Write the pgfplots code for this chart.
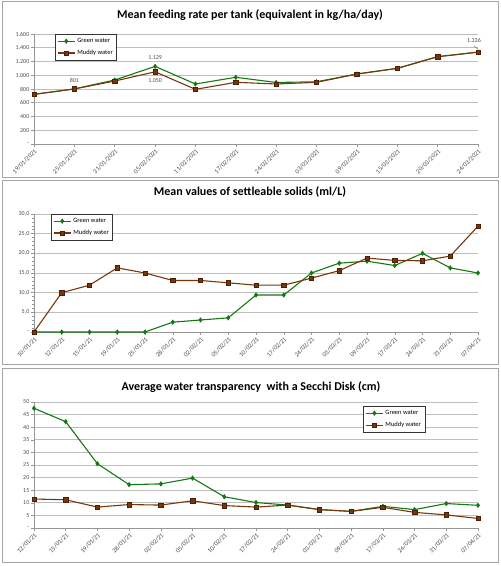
\documentclass[border=0pt]{standalone}
\usepackage{fontspec}
\setmainfont{Carlito}
\usepackage{pgfplots}
\pgfplotsset{compat=1.18}
\definecolor{gw}{RGB}{20,120,20}
\definecolor{mw}{RGB}{120,55,10}
\definecolor{mwd}{RGB}{75,30,5}
\definecolor{gridc}{RGB}{190,190,190}
\definecolor{axc}{RGB}{150,150,150}
\definecolor{framec}{RGB}{165,165,165}
\newcommand{\tk}{\fontsize{6}{7}\selectfont}
\newcommand{\dk}{\fontsize{6.5}{7}\selectfont}
\newcommand{\lk}{\fontsize{6.5}{7.5}\selectfont}
\newcommand{\ttl}{\fontsize{12}{14}\selectfont\bfseries}
\pgfplotsset{
 panel/.style={
  scale only axis, width=444pt, anchor=south west,
  axis x line=bottom, axis y line=left,
  axis line style={axc,-,line width=0.6pt},
  ymajorgrids, grid style={gridc, line width=0.7pt},
  tick style={axc, line width=0.5pt}, major tick length=3pt,
  tick align=outside,
  x tick label style={rotate=45, anchor=north east, font=\dk, inner sep=1pt, text=black!70},
  y tick label style={font=\tk, text=black!70, inner sep=1.5pt},
  legend style={font=\lk, draw=black!80, line width=0.6pt, inner sep=2pt,
     row sep=2pt, cells={anchor=west}},
  legend cell align=left,
  clip=false,
 },
 gser/.style={gw, line width=1.1pt, mark=diamond*, mark size=1.8pt, mark options={gw}},
 mser/.style={mw, line width=1.1pt, mark=square*, mark size=2.2pt,
   mark options={fill=mw, draw=mwd, line width=0.5pt}},
}
\begin{document}
\begin{tikzpicture}
\path[use as bounding box] (0pt,0pt) rectangle (501pt,566pt);
\draw[framec, line width=1pt] (2pt,388pt) rectangle (498pt,564pt);
\draw[framec, line width=1pt] (2pt,201pt) rectangle (498pt,385pt);
\draw[framec, line width=1pt] (2pt,3pt) rectangle (498pt,197pt);
\node[font=\ttl] at (250pt,551pt) {Mean feeding rate per tank (equivalent in kg/ha/day)};
\node[font=\ttl] at (250pt,374pt) {Mean values of settleable solids (ml/L)};
\node[font=\ttl] at (251pt,179pt) {Average water transparency\ \ with a Secchi Disk (cm)};

% Panel 1
\begin{axis}[panel, at={(34pt,422pt)}, height=110pt,
  xmin=0, xmax=11, ymin=0, ymax=1600,
  xtick={0,...,11},
  xticklabels={19/01/2021,25/01/2021,31/01/2021,05/02/2021,11/02/2021,17/02/2021,24/02/2021,03/03/2021,09/03/2021,15/03/2021,20/03/2021,24/03/2021},
  ytick={0,200,...,1600},
  yticklabels={-,200,400,600,800,{1.000},{1.200},{1.400},{1.600}},
  legend style={at={(0.047,1)}, anchor=north west},
]
\addplot[gser] coordinates {(0,722) (1,801) (2,931) (3,1129) (4,873) (5,970) (6,895) (7,905) (8,1018) (9,1100) (10,1270) (11,1336)};
\addlegendentry{Green water}
\addplot[mser] coordinates {(0,722) (1,801) (2,916) (3,1050) (4,795) (5,897) (6,873) (7,897) (8,1018) (9,1100) (10,1270) (11,1336)};
\addlegendentry{Muddy water}
\node[font=\tk, text=black!70] at (axis cs:1,801) [yshift=8pt] {801};
\node[font=\tk, text=black!70] at (axis cs:3,1129) [yshift=9pt] {1.129};
\node[font=\tk, text=black!70] at (axis cs:3,1050) [yshift=-9pt] {1.050};
\node[font=\tk, text=black!70] (lab) at (axis cs:10.9,1336) [yshift=12pt] {1.336};
\draw[black!60, line width=0.4pt] (lab.south) -- ([yshift=3pt]axis cs:11,1336);
\end{axis}

% Panel 2
\begin{axis}[panel, at={(34pt,234pt)}, height=118pt,
  xmin=0, xmax=16, ymin=0, ymax=30,
  xtick={0,...,16},
  xticklabels={10/01/21,12/01/21,15/01/21,19/01/21,25/01/21,28/01/21,02/02/21,05/02/21,10/02/21,17/02/21,24/02/21,03/03/21,09/03/21,17/03/21,24/03/21,31/03/21,07/04/21},
  ytick={0,5,...,30},
  yticklabels={-,{5,0},{10,0},{15,0},{20,0},{25,0},{30,0}},
  minor y tick num=4, minor tick length=1.5pt,
  legend style={at={(0.038,1)}, anchor=north west},
]
\addplot[gser] coordinates {(0,0) (1,0) (2,0) (3,0) (4,0) (5,2.5) (6,3.05) (7,3.6) (8,9.4) (9,9.4) (10,15.0) (11,17.5) (12,18.0) (13,16.9) (14,20.0) (15,16.3) (16,15.0)};
\addlegendentry{Green water}
\addplot[mser] coordinates {(0,0) (1,10.0) (2,11.9) (3,16.3) (4,15.0) (5,13.1) (6,13.1) (7,12.5) (8,11.9) (9,11.9) (10,13.7) (11,15.6) (12,18.8) (13,18.2) (14,18.1) (15,19.3) (16,26.9)};
\addlegendentry{Muddy water}
\end{axis}

% Panel 3
\begin{axis}[panel, at={(34pt,38pt)}, height=126pt,
  xmin=0, xmax=14, ymin=0, ymax=50,
  xtick={0,...,14},
  xticklabels={12/01/21,15/01/21,19/01/21,28/01/21,02/02/21,05/02/21,10/02/21,17/02/21,24/02/21,03/03/21,09/03/21,17/03/21,24/03/21,31/03/21,07/04/21},
  ytick={0,5,...,50},
  yticklabels={-,5,10,15,20,25,30,35,40,45,50},
  legend style={at={(0.741,0.968)}, anchor=north west},
]
\addplot[gser] coordinates {(0,47.5) (1,42.2) (2,25.5) (3,17.2) (4,17.5) (5,19.8) (6,12.4) (7,10.1) (8,9.1) (9,7.3) (10,6.6) (11,8.6) (12,7.3) (13,9.7) (14,9.0)};
\addlegendentry{Green water}
\addplot[mser] coordinates {(0,11.5) (1,11.2) (2,8.3) (3,9.3) (4,9.1) (5,10.8) (6,8.9) (7,8.3) (8,9.1) (9,7.3) (10,6.6) (11,8.2) (12,6.2) (13,5.2) (14,3.8)};
\addlegendentry{Muddy water}
\end{axis}
\end{tikzpicture}
\end{document}
